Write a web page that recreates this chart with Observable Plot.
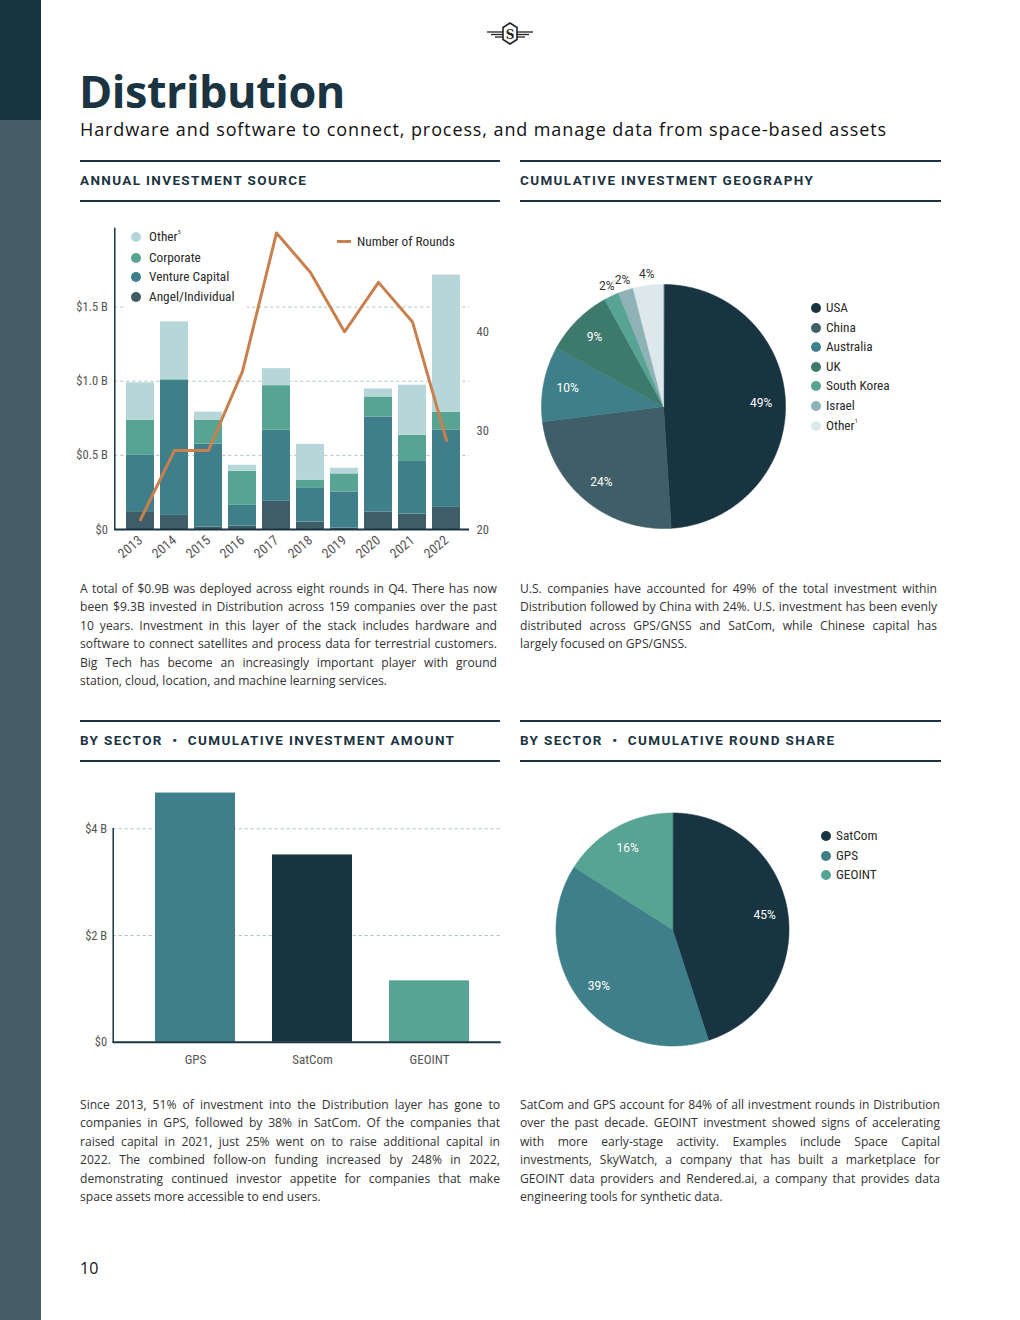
<!DOCTYPE html>
<html><head><meta charset="utf-8">
<script src="https://cdn.jsdelivr.net/npm/d3@7"></script>
<script src="https://cdn.jsdelivr.net/npm/@observablehq/plot@0.6"></script>
<style>
html,body{margin:0;padding:0;background:#fff}
body{width:1020px;height:1320px;position:relative;overflow:hidden;font-family:Roboto,sans-serif}
.abs{position:absolute}
.hline{position:absolute;height:2px;background:#1b3441}
.head{position:absolute;font-family:Roboto,sans-serif;font-weight:700;font-size:13.5px;line-height:1;letter-spacing:1.35px;color:#1b3441;white-space:nowrap}
.para{position:absolute;font-family:"Open Sans",sans-serif;font-size:12.1px;line-height:18.4px;color:#333}
.para div{white-space:nowrap;text-align:justify;text-align-last:justify}
.para div.last{text-align:left;text-align-last:left}
.leg{position:absolute;font-family:"Liberation Sans Narrow","Roboto Condensed",Roboto,sans-serif;font-size:13.3px;color:#2a2a2a;line-height:1}
.leg .row{position:absolute;white-space:nowrap}
.leg .dot{position:absolute;width:10px;height:10px;border-radius:50%}
.leg sup{font-size:6px;vertical-align:top;position:relative;top:-1px}
</style></head><body>
<script>
// ---------------- DATA ----------------
const years = ["2013","2014","2015","2016","2017","2018","2019","2020","2021","2022"];
const sourceKeys = ["Angel/Individual","Venture Capital","Corporate","Other"];
const angelValues     = [0.120, 0.095, 0.016, 0.023, 0.190, 0.050, 0.010, 0.117, 0.104, 0.149];
const ventureValues   = [0.380, 0.910, 0.560, 0.140, 0.480, 0.227, 0.243, 0.642, 0.355, 0.520];
const corporateValues = [0.237, 0.005, 0.162, 0.230, 0.300, 0.054, 0.122, 0.135, 0.176, 0.122];
const otherValues     = [0.252, 0.390, 0.054, 0.040, 0.115, 0.243, 0.038, 0.054, 0.338, 0.925];
const roundCounts     = [21, 28, 28, 36, 50, 46, 40, 45, 41, 29];
const leftTicks = [0, 0.5, 1.0, 1.5];
const leftTickLabels = ["$0", "$0.5 B", "$1.0 B", "$1.5 B"];
const roundTicks = [20, 30, 40];

const geoNames = ["USA","China","Australia","UK","South Korea","Israel","Other"];
const geoShares = [49, 24, 10, 9, 2, 2, 4];

const sectors = ["GPS","SatCom","GEOINT"];
const sectorAmounts = [4.67, 3.51, 1.15];
const sectorTicks = [0, 2, 4];
const sectorTickLabels = ["$0", "$2 B", "$4 B"];

const roundShareNames = ["SatCom","GPS","GEOINT"];
const roundShares = [45, 39, 16];

// ---------------- STYLE ----------------
const sourceColors = ["#3f5d66", "#3f7f89", "#57a394", "#b7d6da"];
const geoColors = ["#183441", "#3f5e67", "#3e7f89", "#3e7a6c", "#57a394", "#8fb2b6", "#dce8eb"];
const sectorColors = ["#3f7f89", "#183441", "#57a394"];
const shareColors = ["#183441", "#3f7f89", "#57a394"];
const dark = "#1b3441";
const gridColor = "#a9c2c7";
const narrow = "'Liberation Sans Narrow','Roboto Condensed',Roboto,sans-serif";

function add(tag, css, html) {
  const e = document.createElement(tag);
  if (css) e.style.cssText = css;
  if (html != null) e.innerHTML = html;
  document.body.appendChild(e);
  return e;
}
function place(node, left, top) {
  node.style.position = "absolute";
  node.style.left = left + "px";
  node.style.top = top + "px";
  document.body.appendChild(node);
  return node;
}

// ---------------- PAGE CHROME ----------------
add("div", "position:absolute;left:0;top:0;width:41px;height:120px;background:#173441");
add("div", "position:absolute;left:0;top:120px;width:41px;height:1200px;background:#475e67");
add("div", "position:absolute;left:485px;top:20px;width:50px;height:28px",
 `<svg width="50" height="28" viewBox="0 0 50 28">
   <g stroke="#222" stroke-width="1.3" fill="none">
    <line x1="2" y1="12" x2="18" y2="12"/><line x1="6" y1="14.5" x2="18" y2="14.5"/><line x1="10" y1="17" x2="18" y2="17"/>
    <line x1="32" y1="12" x2="48" y2="12"/><line x1="32" y1="14.5" x2="44" y2="14.5"/><line x1="32" y1="17" x2="40" y2="17"/>
    <polygon points="25,3 32,7.5 32,19.5 25,24 18,19.5 18,7.5" stroke-width="1.6"/>
   </g>
   <text x="25" y="18.5" text-anchor="middle" font-size="12" font-weight="700" fill="#222" style="font-family:'DejaVu Serif',serif">S</text>
 </svg>`);

add("div", `position:absolute;left:79px;top:68px;font-family:'Open Sans',sans-serif;font-weight:700;font-size:45px;line-height:1;color:${dark};white-space:nowrap;letter-spacing:-0.5px`, "Distribution");
add("div", `position:absolute;left:80px;top:120px;font-family:'Open Sans',sans-serif;font-weight:500;font-size:18px;line-height:1;color:#111;white-space:nowrap;letter-spacing:0.9px`, "Hardware and software to connect, process, and manage data from space-based assets");

for (const [x, w] of [[80, 420], [520, 421]]) {
  for (const y of [160, 200, 720, 760]) add("div", `left:${x}px;top:${y}px;width:${w}px`).className = "hline";
}
add("div", "left:80px;top:174px", "ANNUAL INVESTMENT SOURCE").className = "head";
add("div", "left:520px;top:174px", "CUMULATIVE INVESTMENT GEOGRAPHY").className = "head";
add("div", "left:80px;top:734px", "BY SECTOR &nbsp;•&nbsp; CUMULATIVE INVESTMENT AMOUNT").className = "head";
add("div", "left:520px;top:734px", "BY SECTOR &nbsp;•&nbsp; CUMULATIVE ROUND SHARE").className = "head";

function para(left, top, width, lines) {
  const d = add("div", `left:${left}px;top:${top}px;width:${width}px`);
  d.className = "para";
  d.innerHTML = lines.map((l, i) => `<div class="${i === lines.length - 1 ? "last" : ""}">${l}</div>`).join("");
}
para(80, 580, 417, [
  "A total of $0.9B was deployed across eight rounds in Q4. There has now",
  "been $9.3B invested in Distribution across 159 companies over the past",
  "10 years. Investment in this layer of the stack includes hardware and",
  "software to connect satellites and process data for terrestrial customers.",
  "Big Tech has become an increasingly important player with ground",
  "station, cloud, location, and machine learning services."]);
para(520, 580, 417, [
  "U.S. companies have accounted for 49% of the total investment within",
  "Distribution followed by China with 24%. U.S. investment has been evenly",
  "distributed across GPS/GNSS and SatCom, while Chinese capital has",
  "largely focused on GPS/GNSS."]);
para(80, 1096, 420, [
  "Since 2013, 51% of investment into the Distribution layer has gone to",
  "companies in GPS, followed by 38% in SatCom. Of the companies that",
  "raised capital in 2021, just 25% went on to raise additional capital in",
  "2022. The combined follow-on funding increased by 248% in 2022,",
  "demonstrating continued investor appetite for companies that make",
  "space assets more accessible to end users."]);
para(520, 1096, 420, [
  "SatCom and GPS account for 84% of all investment rounds in Distribution",
  "over the past decade. GEOINT investment showed signs of accelerating",
  "with more early-stage activity. Examples include Space Capital",
  "investments, SkyWatch, a company that has built a marketplace for",
  "GEOINT data providers and Rendered.ai, a company that provides data",
  "engineering tools for synthetic data."]);
add("div", "position:absolute;left:80px;top:1260px;font-family:'Open Sans',sans-serif;font-size:16px;line-height:1;color:#111", "10");

// ---------------- CHART 1: annual investment source ----------------
const seriesValues = [angelValues, ventureValues, corporateValues, otherValues];
const sourceData = [];
sourceKeys.forEach((k, si) => years.forEach((yr, i) => sourceData.push({year: yr, source: k, value: seriesValues[si][i]})));
const roundsData = years.map((yr, i) => ({year: yr, rounds: roundCounts[i]}));
const roundsToB = r => (r - 20) / 15;

const axisFont = {fontFamily: narrow, fontSize: "12.5px", color: "#555", background: "transparent", overflow: "visible"};

const chart1 = Plot.plot({
  width: 450, height: 355,
  marginLeft: 54.3, marginRight: 41, marginTop: 13, marginBottom: 41,
  style: axisFont,
  x: {type: "band", domain: years, paddingInner: 0.167, paddingOuter: 0.183, insetLeft: 3.4, label: null},
  y: {domain: [0, 2.03], label: null},
  color: {domain: sourceKeys, range: sourceColors},
  marks: [
    Plot.gridY(leftTicks.slice(1), {stroke: gridColor, strokeOpacity: 1, strokeDasharray: "3,3"}),
    Plot.barY(sourceData, {x: "year", y: "value", fill: "source"}),
    Plot.ruleY([0], {stroke: dark, strokeWidth: 2}),
    Plot.frame({anchor: "left", stroke: dark, strokeWidth: 1.5}),
    Plot.line(roundsData, {x: "year", y: d => roundsToB(d.rounds), stroke: "#c8804f", strokeWidth: 3}),
    Plot.axisY(leftTicks, {anchor: "left", tickSize: 0, tickPadding: 7, tickFormat: d => leftTickLabels[leftTicks.indexOf(d)]}),
    Plot.axisY(roundTicks.map(roundsToB), {anchor: "right", tickSize: 0, tickPadding: 7, tickFormat: d => String(Math.round(d * 15 + 20))}),
    Plot.axisX({tickSize: 0, tickRotate: -40, tickPadding: 9, fontSize: 13.5})
  ]
});
place(chart1, 60, 215);

// legend chart 1
const leg1 = add("div", "left:125px;top:228px;width:122px;height:82px;background:#fff");
leg1.className = "leg";
const leg1Items = [["Other<sup>5</sup>", sourceColors[3]], ["Corporate", sourceColors[2]], ["Venture Capital", sourceColors[1]], ["Angel/Individual", sourceColors[0]]];
const leg1Y = [9.3, 29.7, 48.7, 69.3];
leg1Items.forEach(([t, c], i) => {
  leg1.innerHTML += `<div class="dot" style="left:6px;top:${leg1Y[i] - 5}px;background:${c}"></div><div class="row" style="left:24px;top:${leg1Y[i] - 7}px">${t}</div>`;
});
const leg1b = add("div", "left:337px;top:234px;width:140px;height:16px");
leg1b.className = "leg";
leg1b.innerHTML = `<div style="position:absolute;left:0;top:6px;width:14px;height:3px;background:#c8804f"></div><div class="row" style="left:20px;top:1px">Number of Rounds</div>`;

// ---------------- PIE helper ----------------
function pieChart(names, shares, colors, R, size) {
  const half = size / 2 / R;
  const total = d3.sum(shares);
  const wedges = [];
  const labels = [];
  let acc = 0;
  names.forEach((n, i) => {
    const a0 = acc / total * 2 * Math.PI;
    acc += shares[i];
    const a1 = acc / total * 2 * Math.PI;
    wedges.push({name: n, x: 0, y: 0});
    const steps = Math.max(2, Math.ceil((a1 - a0) / (Math.PI / 360)));
    for (let k = 0; k <= steps; k++) {
      const a = a0 + (a1 - a0) * k / steps;
      wedges.push({name: n, x: Math.sin(a), y: Math.cos(a)});
    }
    const am = (a0 + a1) / 2;
    const inside = shares[i] >= 5;
    const rr = inside ? 0.8 : 1.09;
    labels.push({name: n, text: shares[i] + "%", inside, x: rr * Math.sin(am), y: rr * Math.cos(am)});
  });
  return Plot.plot({
    width: size, height: size, margin: 0,
    style: {fontFamily: "Roboto, sans-serif", fontSize: "12px", background: "transparent", overflow: "visible"},
    x: {domain: [-half, half], axis: null},
    y: {domain: [-half, half], axis: null},
    color: {domain: names, range: colors},
    marks: [
      Plot.line(wedges, {x: "x", y: "y", z: "name", fill: "name", stroke: "name", strokeWidth: 0.6, curve: "linear-closed"}),
      Plot.text(labels.filter(d => d.inside), {x: "x", y: "y", text: "text", fill: "white", fontSize: 12}),
      Plot.text(labels.filter(d => !d.inside), {x: "x", y: "y", text: "text", fill: "#333", fontSize: 12})
    ]
  });
}

const pie1 = pieChart(geoNames, geoShares, geoColors, 122, 300);
place(pie1, 663 - 150, 406 - 150);
const pie2 = pieChart(roundShareNames, roundShares, shareColors, 116.5, 300);
place(pie2, 671.5 - 150, 929 - 150);

function pieLegend(left, top, names, colors, step, suffix) {
  const d = add("div", `left:${left}px;top:${top}px;width:130px;height:${names.length * step}px`);
  d.className = "leg";
  names.forEach((n, i) => {
    const label = n + (suffix[i] || "");
    d.innerHTML += `<div class="dot" style="left:0;top:${i * step - 5}px;background:${colors[i]}"></div><div class="row" style="left:15px;top:${i * step - 7}px">${label}</div>`;
  });
}
pieLegend(811, 308, geoNames, geoColors, 19.6, ["", "", "", "", "", "", "<sup>1</sup>"]);
pieLegend(821, 836, roundShareNames, shareColors, 19.6, []);

// ---------------- CHART 3: sector amounts ----------------
const sectorData = sectors.map((s, i) => ({sector: s, amount: sectorAmounts[i]}));
const chart3 = Plot.plot({
  width: 450, height: 300,
  marginLeft: 52.7, marginRight: 9.3, marginTop: 53.3, marginBottom: 33.3,
  style: axisFont,
  x: {type: "band", domain: sectors, paddingInner: 0.32, paddingOuter: 0.27, insetLeft: 9.6, label: null},
  y: {domain: [0, 4], label: null},
  color: {domain: sectors, range: sectorColors},
  marks: [
    Plot.gridY(sectorTicks.slice(1), {stroke: gridColor, strokeOpacity: 1, strokeDasharray: "3,3"}),
    Plot.barY(sectorData, {x: "sector", y: "amount", fill: "sector"}),
    Plot.ruleY([0], {stroke: dark, strokeWidth: 2}),
    Plot.frame({anchor: "left", stroke: dark, strokeWidth: 1.5}),
    Plot.axisY(sectorTicks, {anchor: "left", tickSize: 0, tickPadding: 6, tickFormat: d => sectorTickLabels[sectorTicks.indexOf(d)]}),
    Plot.axisX({tickSize: 0, tickPadding: 13, fontSize: 13})
  ]
});
place(chart3, 60, 775);
</script>
</body></html>
